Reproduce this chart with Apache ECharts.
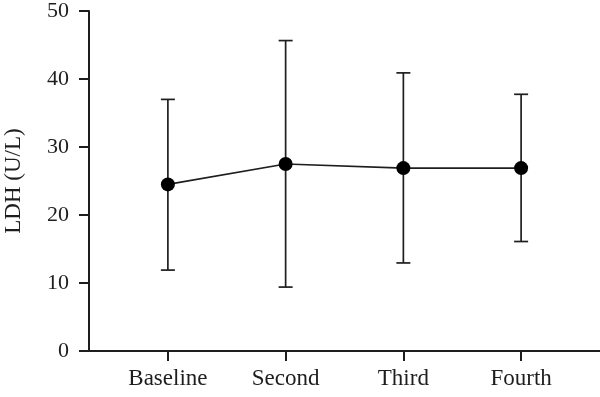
<!DOCTYPE html>
<html>
<head>
<meta charset="utf-8">
<script src="https://cdn.jsdelivr.net/npm/echarts@6/dist/echarts.min.js"></script>
<style>
  html, body { margin: 0; padding: 0; background: #fff; }
  #chart { width: 600px; height: 397px; }
</style>
</head>
<body>
<div id="chart"></div>
<script>
// data
const categories = ['Baseline', 'Second', 'Third', 'Fourth'];
const means = [24.5, 27.5, 26.9, 26.9];
const lower = [11.9, 9.4, 12.95, 16.1];
const upper = [37.0, 45.65, 40.9, 37.75];
const yTicks = [0, 10, 20, 30, 40, 50];

const positions = categories.map((c, i) => i + 1);
const font = '"Liberation Serif", "DejaVu Serif", serif';
const ink = '#1e1e1e';

const chart = echarts.init(document.getElementById('chart'));

const option = {
  animation: false,
  grid: { left: 89, right: 0, top: 11, bottom: 46, outerBoundsMode: 'none', containLabel: false },
  xAxis: {
    type: 'value',
    min: 0.33,
    max: 4.67,
    splitLine: { show: false },
    axisLine: { show: true, lineStyle: { color: ink, width: 2 } },
    axisTick: {
      show: true, length: 10, customValues: positions,
      lineStyle: { color: ink, width: 2 }
    },
    axisLabel: {
      customValues: positions,
      formatter: v => categories[Math.round(v) - 1] || '',
      color: ink, fontFamily: font, fontSize: 23, margin: 16
    }
  },
  yAxis: {
    type: 'value',
    min: yTicks[0],
    max: yTicks[yTicks.length - 1],
    interval: 10,
    name: 'LDH (U/L)',
    nameLocation: 'middle',
    nameGap: 64,
    nameTextStyle: { color: ink, fontFamily: font, fontSize: 23 },
    splitLine: { show: false },
    axisLine: { show: true, lineStyle: { color: ink, width: 2 } },
    axisTick: { show: true, length: 10, lineStyle: { color: ink, width: 2 } },
    axisLabel: { color: ink, fontFamily: font, fontSize: 22, margin: 20 }
  },
  series: [
    {
      // error bars
      type: 'custom',
      data: positions.map((x, i) => [x, lower[i], upper[i]]),
      renderItem: (params, api) => {
        const x = api.value(0);
        const lo = api.coord([x, api.value(1)]);
        const hi = api.coord([x, api.value(2)]);
        const w = 7;
        const style = { stroke: ink, lineWidth: 1.7 };
        return {
          type: 'group',
          children: [
            { type: 'line', shape: { x1: lo[0], y1: lo[1], x2: hi[0], y2: hi[1] }, style },
            { type: 'line', shape: { x1: hi[0] - w, y1: hi[1], x2: hi[0] + w, y2: hi[1] }, style },
            { type: 'line', shape: { x1: lo[0] - w, y1: lo[1], x2: lo[0] + w, y2: lo[1] }, style }
          ]
        };
      },
      z: 1
    },
    {
      type: 'line',
      data: positions.map((x, i) => [x, means[i]]),
      symbol: 'circle',
      symbolSize: 14,
      itemStyle: { color: '#000' },
      lineStyle: { color: ink, width: 1.7 },
      z: 2
    }
  ]
};

chart.setOption(option);
</script>
</body>
</html>
